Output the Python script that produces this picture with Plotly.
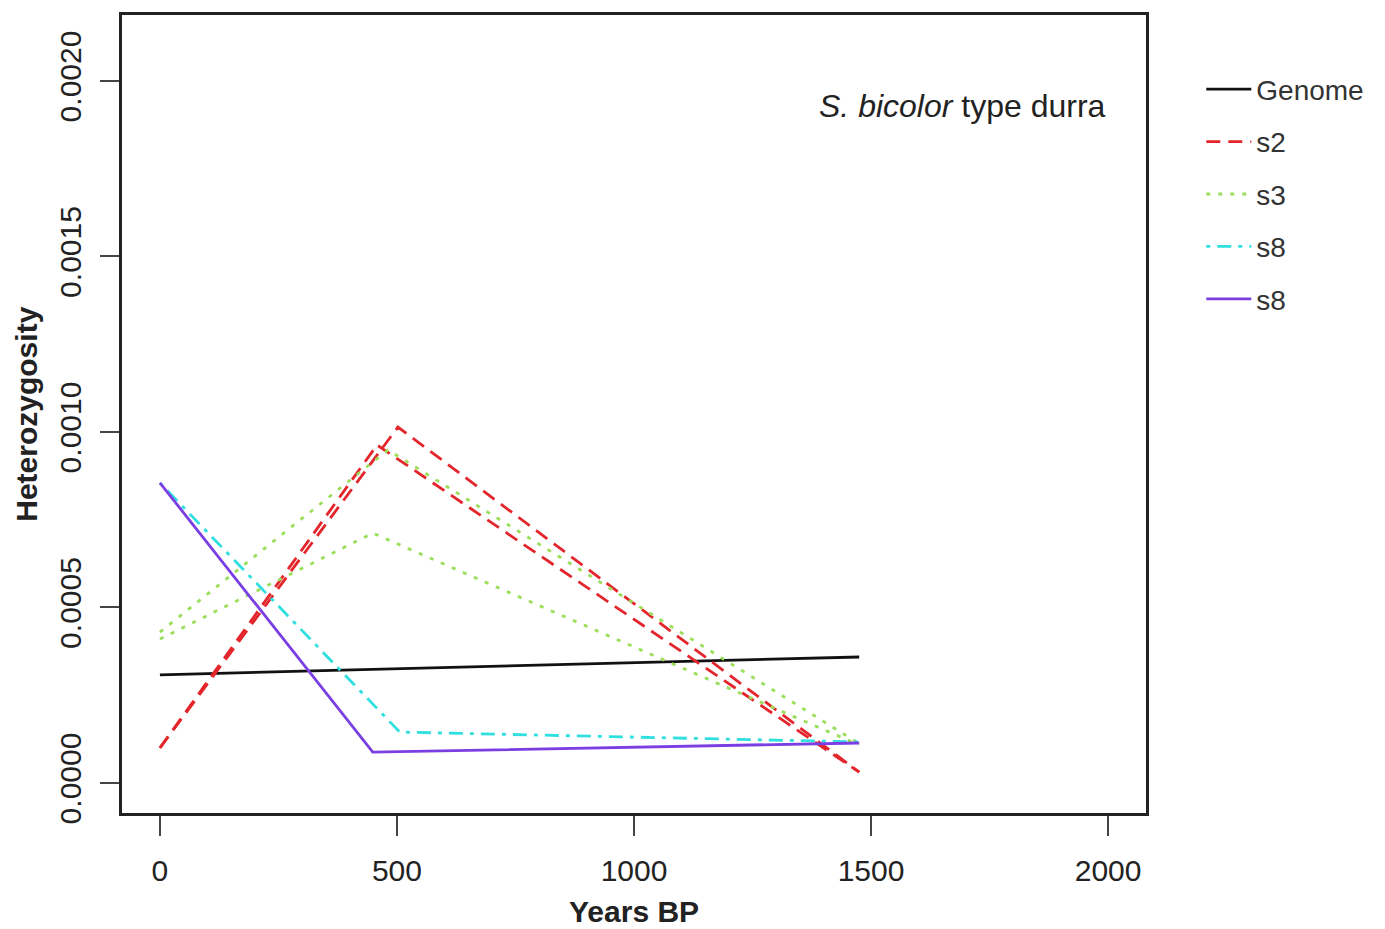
import plotly.graph_objects as go

# Heterozygosity through time (years before present)
genome_x = [0, 1475]
genome_y = [0.000308, 0.000359]

s2_a_x = [0, 458, 1475]
s2_a_y = [0.000100, 0.000963, 0.000031]
s2_b_x = [0, 502, 1475]
s2_b_y = [0.000100, 0.001014, 0.000031]

s3_a_x = [0, 449, 1475]
s3_a_y = [0.000410, 0.000712, 0.000108]
s3_b_x = [0, 481, 1475]
s3_b_y = [0.000430, 0.000949, 0.000112]

s8_cyan_x = [0, 506, 1475]
s8_cyan_y = [0.000855, 0.000145, 0.000117]

s8_purple_x = [0, 449, 1475]
s8_purple_y = [0.000855, 0.000088, 0.000114]

x_ticks = [0, 500, 1000, 1500, 2000]
y_ticks = [0.0, 0.0005, 0.0010, 0.0015, 0.0020]
y_tick_text = ["0.0000", "0.0005", "0.0010", "0.0015", "0.0020"]

RED = "#e3262c"
GREEN = "#9ade5a"
CYAN = "#30dfe0"
PURPLE = "#7a3ee2"
FONT = "Liberation Sans, Arial, Helvetica, sans-serif"

fig = go.Figure()

def add_line(x, y, name, color, dash, group, show):
    fig.add_trace(go.Scatter(
        x=x, y=y, mode="lines", name=name,
        line=dict(color=color, width=2.8, dash=dash),
        legendgroup=group, showlegend=show,
    ))

add_line(genome_x, genome_y, "Genome", "#111111", "solid", "g1", True)
add_line(s2_a_x, s2_a_y, "s2", RED, "14px,8px", "g2", True)
add_line(s2_b_x, s2_b_y, "s2", RED, "14px,8px", "g2", False)
add_line(s3_a_x, s3_a_y, "s3", GREEN, "4px,8px", "g3", True)
add_line(s3_b_x, s3_b_y, "s3", GREEN, "4px,8px", "g3", False)
add_line(s8_cyan_x, s8_cyan_y, "s8", CYAN, "4px,7px,14px,7px", "g4", True)
add_line(s8_purple_x, s8_purple_y, "s8", PURPLE, "solid", "g5", True)

fig.update_layout(
    width=1385, height=929,
    margin=dict(l=122, r=239, t=15, b=116, autoexpand=False),
    plot_bgcolor="white", paper_bgcolor="white",
    font=dict(family=FONT, size=30, color="#222222"),
    legend=dict(
        x=1.054, y=0.938, xanchor="left", yanchor="top",
        font=dict(size=28, color="#333333"),
        traceorder="grouped", tracegroupgap=13,
        itemwidth=45,
        bgcolor="rgba(0,0,0,0)",
    ),
    annotations=[
        dict(text="<i>S. bicolor</i> type durra", xref="paper", yref="paper",
             x=0.963, y=0.886, xanchor="right", yanchor="middle",
             showarrow=False, font=dict(size=32, color="#222222")),
        dict(text="<b>Years BP</b>", xref="paper", yref="paper",
             x=0.5, y=-0.123, xanchor="center", yanchor="middle",
             showarrow=False, font=dict(size=30, color="#222222")),
        dict(text="<b>Heterozygosity</b>", xref="paper", yref="paper",
             x=-0.094, y=0.5, xanchor="center", yanchor="middle",
             textangle=-90, showarrow=False, font=dict(size=30, color="#222222")),
    ],
)

fig.update_xaxes(
    range=[-80, 2080], tickvals=x_ticks, ticktext=[str(v) for v in x_ticks],
    showgrid=False, zeroline=False,
    showline=True, mirror=True, linecolor="#222222", linewidth=2.5,
    ticks="outside", ticklen=20, tickwidth=2, tickcolor="#444444",
    ticklabelstandoff=9,
)
fig.update_yaxes(
    range=[-0.0000855, 0.002188], tickvals=y_ticks, ticktext=y_tick_text,
    showgrid=False, zeroline=False,
    showline=True, mirror=True, linecolor="#222222", linewidth=2.5,
    ticks="outside", ticklen=19, tickwidth=2, tickcolor="#444444",
    tickangle=-90, ticklabelstandoff=7,
)

fig.write_html("out.html")
